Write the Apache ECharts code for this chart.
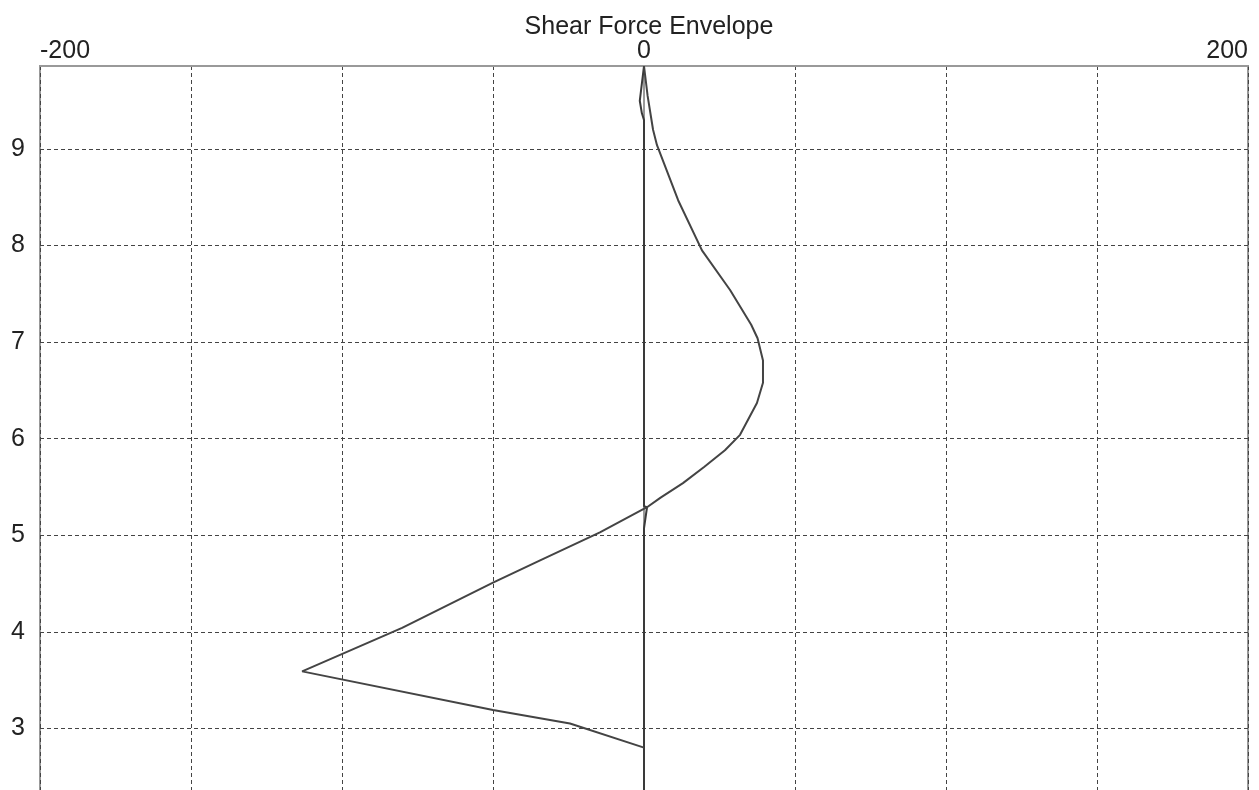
<!DOCTYPE html>
<html>
<head>
<meta charset="utf-8">
<title>Shear Force Envelope</title>
<script src="https://cdn.jsdelivr.net/npm/echarts@6/dist/echarts.min.js"></script>
<style>
  html, body { margin: 0; padding: 0; background: #fff; }
  #main { width: 1259px; height: 790px; }
</style>
</head>
<body>
<div id="main"></div>
<script>
// shear force (x) against height (y)
const envelopeX = [0, 1.2, 3, 4.3, 11.3, 19.2, 28.5, 35.5, 37.6, 39.4, 39.4, 37.4, 31.8, 26.8, 20, 12.9, 5.5, 1,
    -14.6, -34.4, -50, -80.1, -113.2, -50, -24.5, 0]
const envelopeY = [9.86, 9.55, 9.2, 9.04, 8.47, 7.95, 7.54, 7.18, 7.04, 6.81, 6.58, 6.37, 6.04, 5.88, 5.71, 5.54, 5.39, 5.29,
    5.03, 4.74, 4.51, 4.04, 3.59, 3.19, 3.05, 2.8]

const zeroX = [0, 0, 1, 0, 0, -0.7, -1.4, 0]
const zeroY = [2.3, 5.07, 5.29, 5.3, 9.3, 9.37, 9.5, 9.86]

const xLabels = [-200, 0, 200]
const yTicks = [3, 4, 5, 6, 7, 8, 9]

const pairs = (xs, ys) => xs.map((x, i) => [x, ys[i]])

const font = 'Liberation Sans, Arial, sans-serif'
const gridLine = {
    show: true,
    lineStyle: { color: '#444', width: 1, type: [4, 3] },
}

const chart = echarts.init(document.getElementById('main'))
chart.setOption({
    animation: false,
    backgroundColor: '#fff',
    title: {
        text: 'Shear Force Envelope',
        left: 644,
        top: 10,
        textAlign: 'center',
        textStyle: { fontFamily: font, fontSize: 25, fontWeight: 'normal', color: '#222' },
    },
    grid: {
        left: 40,
        right: 11,
        top: 66,
        bottom: -4,
        show: true,
        borderColor: '#999',
        borderWidth: 2,
        outerBoundsMode: 'none',
    },
    xAxis: {
        type: 'value',
        position: 'top',
        min: -200,
        max: 200,
        interval: 50,
        axisLine: { show: true, lineStyle: { color: '#999', width: 2 } },
        axisTick: { show: false },
        splitLine: gridLine,
        axisLabel: {
            fontFamily: font,
            fontSize: 25,
            color: '#222',
            margin: 2,
            alignMinLabel: 'left',
            alignMaxLabel: 'right',
            formatter: (v) => (xLabels.includes(v) ? String(v) : ''),
        },
    },
    yAxis: {
        type: 'value',
        min: 2.32,
        max: 9.86,
        axisLine: { show: true, lineStyle: { color: '#999', width: 2 } },
        axisTick: { show: false, customValues: yTicks },
        splitLine: gridLine,
        axisLabel: {
            fontFamily: font,
            fontSize: 25,
            color: '#222',
            margin: 15,
            customValues: yTicks,
        },
    },
    series: [
        {
            name: 'zero',
            type: 'line',
            data: pairs(zeroX, zeroY),
            showSymbol: false,
            lineStyle: { color: '#3a3a3a', width: 2 },
        },
        {
            name: 'envelope',
            type: 'line',
            data: pairs(envelopeX, envelopeY),
            showSymbol: false,
            lineStyle: { color: '#444', width: 2 },
        },
    ],
})
</script>
</body>
</html>
